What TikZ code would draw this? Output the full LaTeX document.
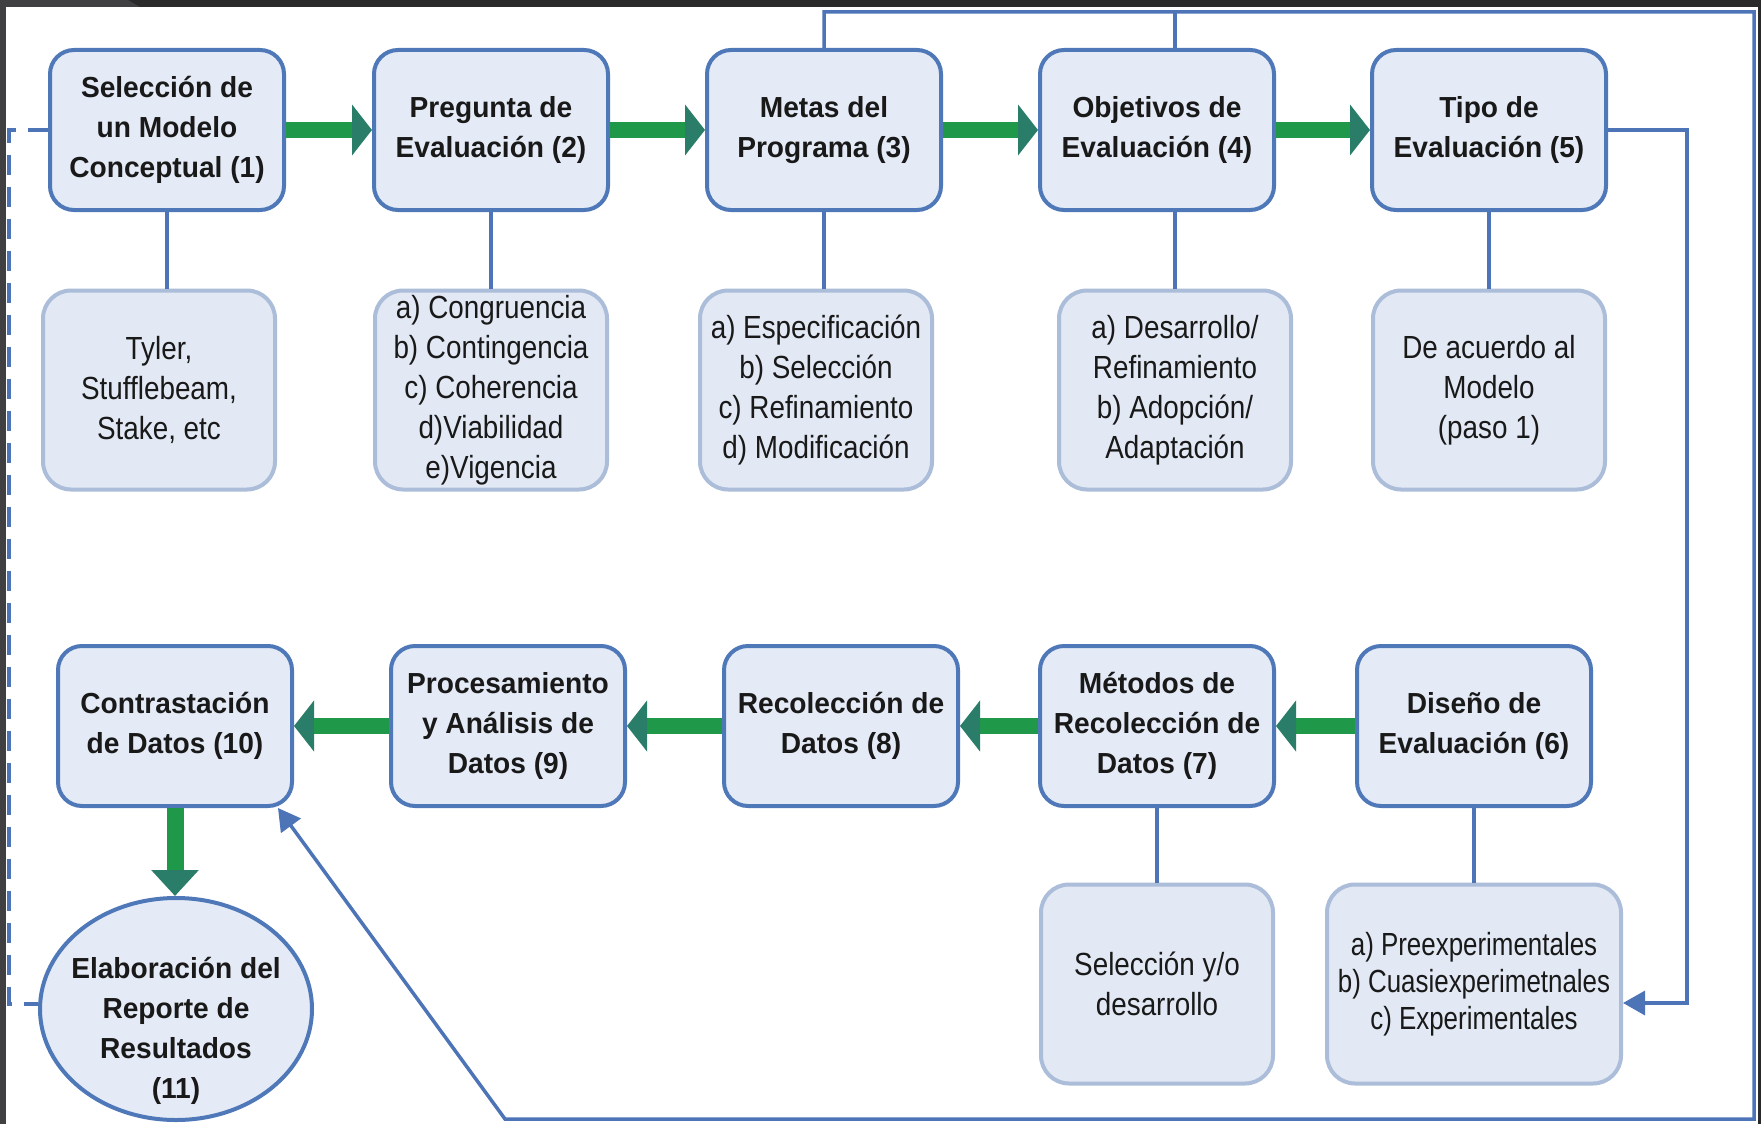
\documentclass[tikz,border=0pt]{standalone}
\usepackage{fontspec}
\setmainfont{Liberation Sans}
\newfontfamily\boldf{Liberation Sans}[FakeStretch=0.97]
\newfontfamily\subf{Liberation Sans}[FakeStretch=0.87]
\newfontfamily\subfm{Liberation Sans}[FakeStretch=0.81]
\usetikzlibrary{arrows.meta,shapes.geometric}
\definecolor{boxblue}{RGB}{79,120,185}
\definecolor{boxfill}{RGB}{228,235,246}
\definecolor{subedge}{RGB}{172,189,218}
\definecolor{subfill}{RGB}{226,233,244}
\definecolor{gshaft}{RGB}{32,152,74}
\definecolor{gtip}{RGB}{42,125,105}
\definecolor{conn}{RGB}{76,116,182}
\definecolor{txt}{RGB}{25,25,25}
\definecolor{framedark}{RGB}{42,42,42}
\definecolor{framegray}{RGB}{64,64,66}
\tikzset{
  mainbox/.style={draw=boxblue, line width=4pt, fill=boxfill, rounded corners=24pt,
    minimum width=234pt, minimum height=160pt, align=center, text=txt, inner sep=0pt,
    font=\boldf\bfseries\fontsize{29}{40}\selectfont},
  subbox/.style={draw=subedge, line width=4pt, fill=subfill, rounded corners=28pt,
    minimum width=232pt, minimum height=199pt, align=center, text=txt, inner sep=0pt,
    font=\subf\fontsize{32}{40}\selectfont},
  garrow/.style={draw=gshaft, line width=16pt, -{Triangle[length=20pt,width=50pt,color=gtip]}},
  garrowv/.style={draw=gshaft, line width=17pt, -{Triangle[length=26pt,width=46pt,color=gtip]}},
  bconn/.style={draw=conn, line width=3.5pt},
  barrow/.style={bconn, -{Triangle[length=22pt,width=24pt]}},
  dashconn/.style={draw=conn, line width=3.5pt, dash pattern=on 20pt off 12pt},
  plain/.style={align=center, text=txt, inner sep=0pt, font=\boldf\bfseries\fontsize{29}{40}\selectfont}
}
\begin{document}
\begin{tikzpicture}[x=1pt,y=-1pt]
\useasboundingbox (0,0) rectangle (1761,1124);
% frame
\fill[framedark] (0,0) rectangle (1761,1124);
\fill[framegray] (0,0) rectangle (6,1124);
\fill[framegray] (0,0) -- (128,0) -- (140,7) -- (0,7) -- cycle;
\fill[white] (6,7) rectangle (1758,1124);

% coordinates of the outer loops
\coordinate (tl) at (825,12);
\coordinate (tr) at (1754,12);
\coordinate (br) at (1754,1119);
\coordinate (bl) at (505,1119);
\coordinate (rr1) at (1687,130);
\coordinate (rr2) at (1687,1003);
\coordinate (d1) at (9,130);
\coordinate (d2) at (9,1004);

% top row
\node[mainbox] (b1) at (167,130) {Selección de\\un Modelo\\Conceptual (1)};
\node[mainbox] (b2) at (491,130) {Pregunta de\\Evaluación (2)};
\node[mainbox] (b3) at (824,130) {Metas del\\Programa (3)};
\node[mainbox] (b4) at (1157,130) {Objetivos de\\Evaluación (4)};
\node[mainbox] (b5) at (1489,130) {Tipo de\\Evaluación (5)};

\node[subbox] (s1) at (159,390) {Tyler,\\Stufflebeam,\\Stake, etc};
\node[subbox] (s2) at (491,390)
  {a) Congruencia\\b) Contingencia\\c) Coherencia\\d)Viabilidad\\e)Vigencia};
\node[subbox] (s3) at (816,390) {a) Especificación\\b) Selección\\c) Refinamiento\\d) Modificación};
\node[subbox] (s4) at (1175,390) {a) Desarrollo/\\Refinamiento\\b) Adopción/\\Adaptación};
\node[subbox] (s5) at (1489,390) {De acuerdo al\\Modelo\\(paso 1)};

% bottom row
\node[mainbox] (b10) at (175,726) {Contrastación\\de Datos (10)};
\node[mainbox] (b9) at (508,726) {Procesamiento\\y Análisis de\\Datos (9)};
\node[mainbox] (b8) at (841,726) {Recolección de\\Datos (8)};
\node[mainbox] (b7) at (1157,726) {Métodos de\\Recolección de\\Datos (7)};
\node[mainbox] (b6) at (1474,726) {Diseño de\\Evaluación (6)};

\node[subbox] (s7) at (1157,984) {Selección y/o\\desarrollo};
\node[subbox, minimum width=294pt, font=\subfm\fontsize{32}{37}\selectfont] (s6) at (1474,984)
  {a) Preexperimentales\\b) Cuasiexperimetnales\\c) Experimentales};

\node[ellipse, draw=boxblue, line width=4pt, fill=boxfill, minimum width=272pt,
  minimum height=222pt, inner sep=0pt] (e11) at (176,1009) {};
\node[plain] (e11t) at (176,1031) {Elaboración del\\Reporte de\\Resultados\\(11)};

% thin blue connectors
\draw[bconn] (b1.south) -- (b1.south |- s1.north);
\draw[bconn] (b2.south) -- (s2.north);
\draw[bconn] (b3.south) -- (b3.south |- s3.north);
\draw[bconn] (s4.north |- b4.south) -- (s4.north);
\draw[bconn] (b5.south) -- (s5.north);
\draw[bconn] (b7.south) -- (s7.north);
\draw[bconn] (b6.south) -- (s6.north);

% outer loop to box 10
\draw[bconn] (s4.north |- b4.north) -- (s4.north |- tl);
\draw[barrow] (b3.north) -- (b3.north |- tl) -- (tr) -- (br) -- (bl) -- ([xshift=-16pt]b10.south east);

% box 5 to design options
\draw[barrow] (b5.east) -- (rr1) -- (rr2) -- (rr2 -| s6.east);

% dashed feedback
\draw[dashconn] (b1.west) -- (d1) -- (d2) -- (d2 -| e11.west);

% green flow arrows
\draw[garrow] (b1) -- (b2);
\draw[garrow] (b2) -- (b3);
\draw[garrow] (b3) -- (b4);
\draw[garrow] (b4) -- (b5);
\draw[garrow] (b6) -- (b7);
\draw[garrow] (b7) -- (b8);
\draw[garrow] (b8) -- (b9);
\draw[garrow] (b9) -- (b10);
\draw[garrowv] (b10.south) -- (b10.south |- e11.north);
\end{tikzpicture}
\end{document}
